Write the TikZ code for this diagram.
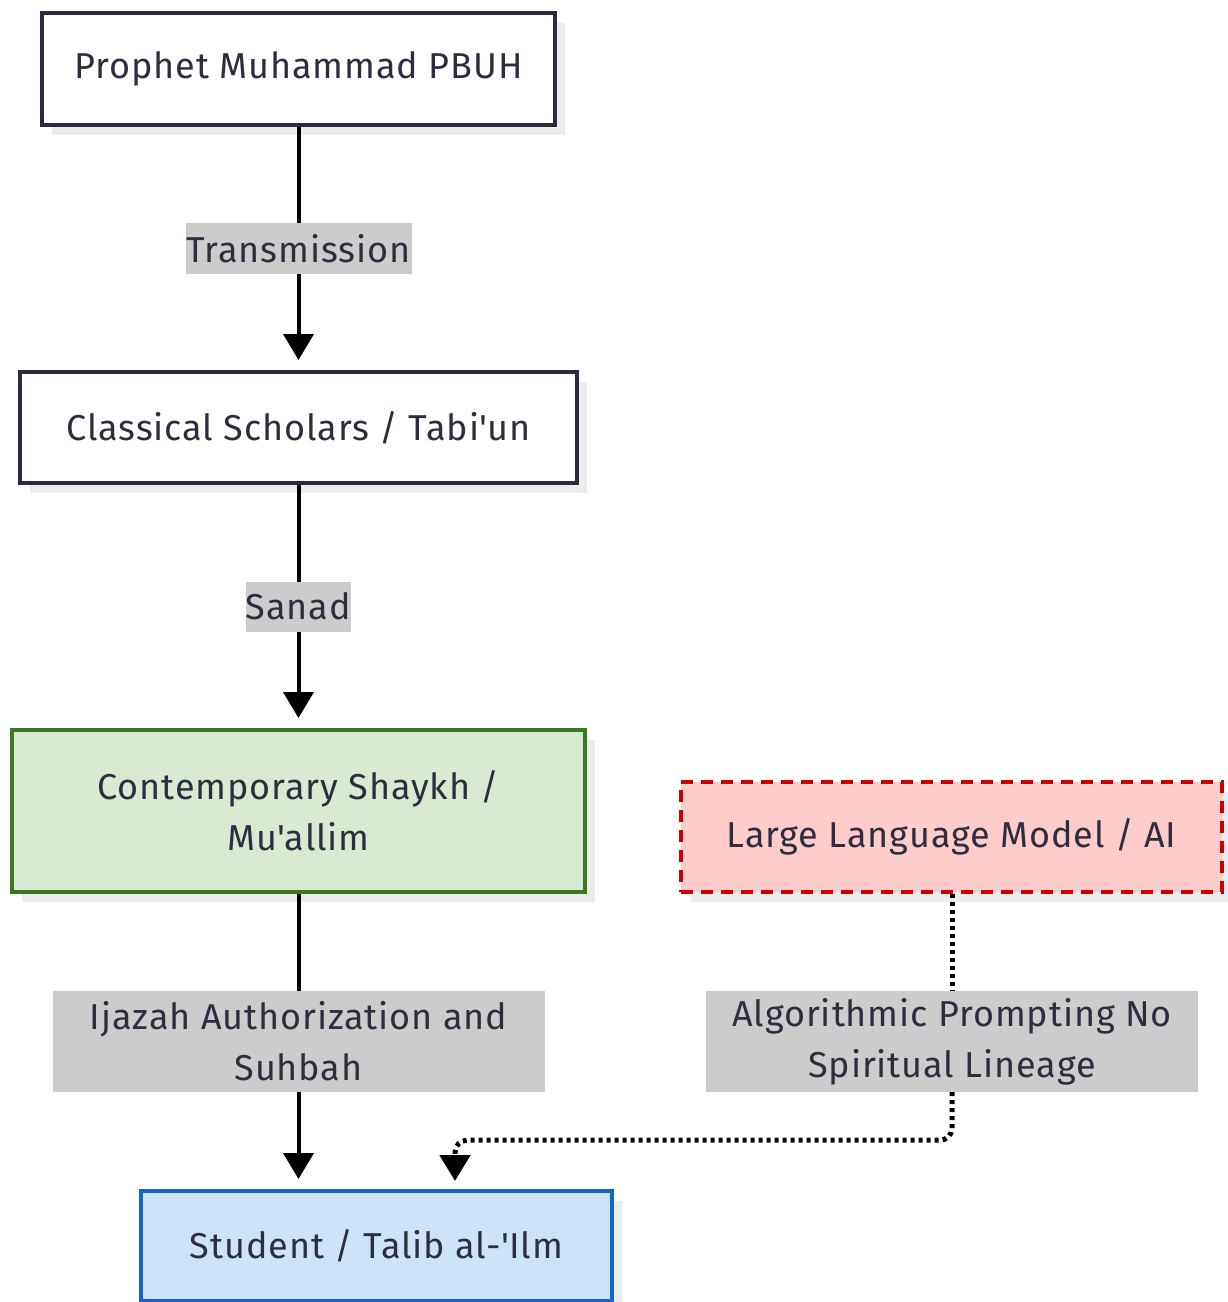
\documentclass[tikz,border=0pt]{standalone}
\usepackage{fontspec}
\setmainfont{Fira Sans}[LetterSpace=2.5]
\usetikzlibrary{arrows.meta,shadows,calc}
\definecolor{txt}{HTML}{2E2D40}
\definecolor{bdr}{HTML}{2B2A3E}
\definecolor{lblfill}{HTML}{CCCCCC}
\definecolor{shd}{HTML}{ECECEC}
\definecolor{grnfill}{HTML}{D9EAD3}
\definecolor{grnbdr}{HTML}{3A7A1E}
\definecolor{redfill}{HTML}{FFCCCC}
\definecolor{redbdr}{HTML}{CC0000}
\definecolor{blufill}{HTML}{CDE4F8}
\definecolor{blubdr}{HTML}{1565C8}
\newcommand{\q}{\textquotesingle}
\begin{document}
\begin{tikzpicture}[x=1pt,y=-1pt,
  box/.style={draw=bdr,line width=4pt,fill=white,text=txt,align=center,
    font=\fontsize{36}{51}\selectfont,inner sep=0pt,
    drop shadow={shadow xshift=10pt,shadow yshift=-10pt,fill=shd,opacity=1}},
  lbl/.style={fill=lblfill,text=txt,align=center,font=\fontsize{36}{51}\selectfont,inner sep=0pt},
  arr/.style={line width=4pt,-{Triangle[width=30pt,length=26pt]},shorten >=10pt},
  dotarr/.style={line width=5pt,dash pattern=on 4pt off 4pt,-{Triangle[width=30pt,length=26pt]},shorten >=10pt}
]
\useasboundingbox (0,0) rectangle (1228,1302);
\node[box,minimum width=513pt,minimum height=112pt] (prophet) at (298.5,69) {Prophet Muhammad PBUH};
\node[box,minimum width=557pt,minimum height=111pt] (classical) at (298.5,427.5) {Classical Scholars / Tabi\q un};
\node[box,draw=grnbdr,fill=grnfill,minimum width=573pt,minimum height=162pt] (shaykh) at (298.5,811) {Contemporary Shaykh /\\Mu\q allim};
\node[box,draw=redbdr,fill=redfill,dash pattern=on 12pt off 8pt,minimum width=541pt,minimum height=110pt] (ai) at (951.5,837) {Large Language Model / AI};
\node[box,draw=blubdr,fill=blufill,minimum width=471pt,minimum height=110pt] (student) at (376.5,1246) {Student / Talib al-\q Ilm};
\node[lbl,minimum width=492pt,minimum height=101pt] (alg) at (952,1041.5) {Algorithmic Prompting No\\Spiritual Lineage};
\coordinate (dt) at (455,1191);

\draw[arr] (prophet) -- node[lbl,minimum width=226pt,minimum height=51pt] (l1) {Transmission} (classical);
\draw[arr] (classical) -- node[lbl,minimum width=103pt,minimum height=50pt] (l2) {Sanad} (shaykh);
\draw[arr] (shaykh.south) -- node[lbl,minimum width=492pt,minimum height=101pt] (l3) {Ijazah Authorization and\\Suhbah} (shaykh.south |- student.north);
\draw[line width=5pt,dash pattern=on 4pt off 4pt] (ai.south -| alg.north) -- (alg.north);
\draw[dotarr,rounded corners=12pt] (alg.south) -- ++(0,48) -| (dt);
\end{tikzpicture}
\end{document}
